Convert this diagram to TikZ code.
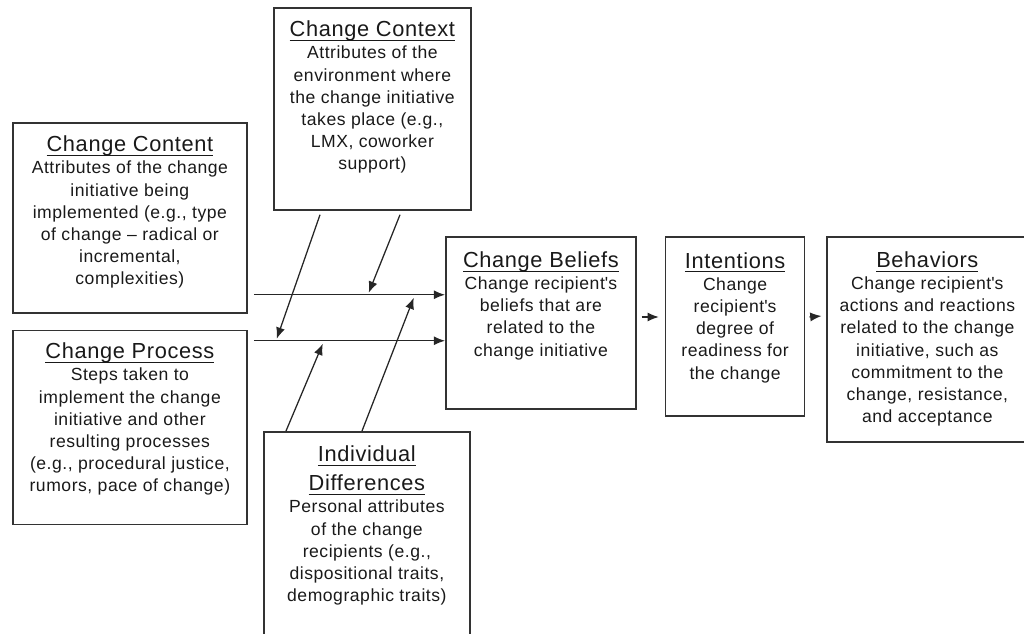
\documentclass[tikz,border=0pt]{standalone}
\usepackage{fontspec}
\setmainfont{Liberation Sans}[LetterSpace=3]
\usetikzlibrary{arrows.meta, positioning, calc}

\newcommand{\factortitle}[1]{{\fontsize{15.5}{16}\selectfont\setbox0\hbox{#1}\rlap{\rule[-3pt]{\wd0}{0.7pt}}\box0}}

\begin{document}
\begin{tikzpicture}[
        x=0.025cm, y=-0.025cm,
        factor/.style={rectangle, draw=black!80, line width=1.2pt, anchor=north west, inner sep=0pt},
        desc/.style={align=center, inner sep=0pt, anchor=north, text=black!90, font=\fontsize{12.5}{15.8}\selectfont},
        line/.style={draw=black!85, line width=0.9pt, -{Latex[length=8pt, width=6.5pt]}}
    ]
        \clip (0,0) rectangle (1024,633);

        % Antecedents
        \node[factor, minimum width=5.85cm, minimum height=4.75cm] (content) at (12,122) {};
        \node[factor, minimum width=5.85cm, minimum height=4.85cm, below=0.4cm of content.south west, anchor=north west] (process) {};
        \node[factor, minimum width=4.925cm, minimum height=5.05cm] (context) at (273,7) {};
        \node[factor, minimum width=5.15cm, minimum height=5.5cm] (indiv) at (263,431) {};

        % Outcomes
        \node[factor, minimum width=4.75cm, minimum height=4.3cm] (beliefs) at (445,236) {};
        \node[factor, minimum width=3.475cm, minimum height=4.475cm, right=0.7cm of beliefs.north east, anchor=north west] (intentions) {};
        \node[factor, minimum width=5cm, minimum height=5.125cm, right=0.525cm of intentions.north east, anchor=north west] (behaviors) {};

        % Texts
        \node[desc, below=0.34cm of content.north] (content_txt) {\factortitle{Change Content}\\Attributes of the change\\initiative being\\implemented (e.g., type\\of change -- radical or\\incremental,\\complexities)};
        \node[desc, below=0.32cm of process.north] (process_txt) {\factortitle{Change Process}\\Steps taken to\\implement the change\\initiative and other\\resulting processes\\(e.g., procedural justice,\\rumors, pace of change)};
        \node[desc, below=0.34cm of context.north] (context_txt) {\factortitle{Change Context}\\Attributes of the\\environment where\\the change initiative\\takes place (e.g.,\\LMX, coworker\\support)};
        \node[desc, below=0.36cm of indiv.north] (indiv_txt) {\factortitle{Individual}\\[5pt]\factortitle{Differences}\\Personal attributes\\of the change\\recipients (e.g.,\\dispositional traits,\\demographic traits)};
        \node[desc, below=0.38cm of beliefs.north] (beliefs_txt) {\factortitle{Change Beliefs}\\Change recipient\textquotesingle s\\beliefs that are\\related to the\\change initiative};
        \node[desc, below=0.4cm of intentions.north] (intentions_txt) {\factortitle{Intentions}\\Change\\recipient\textquotesingle s\\degree of\\readiness for\\the change};
        \node[desc, below=0.38cm of behaviors.north] (behaviors_txt) {\factortitle{Behaviors}\\Change recipient\textquotesingle s\\actions and reactions\\related to the change\\initiative, such as\\commitment to the\\change, resistance,\\and acceptance};

        % Connections (into beliefs)
        \coordinate (content_out) at ($(content.south east)+(6,-19)$);
        \coordinate (process_out) at ($(process.north east)+(6,11)$);
        \draw[line] (content_out) -- (content_out -| beliefs.west);
        \draw[line] (process_out) -- (process_out -| beliefs.west);

        % Connections (context and individual differences)
        \draw[line] ($(context.south west)+(47,4)$) -- ($(process_out)+(23,-2)$);
        \draw[line] ($(context.south west)+(127,4)$) -- ($(content_out)+(115,-2)$);
        \draw[line] ($(indiv.north west)+(23,0)$) -- ($(process_out)+(69,3)$);
        \draw[line] ($(indiv.north west)+(99,0)$) -- ($(content_out)+(160,3)$);

        % Connections (outcomes)
        \draw[line] ($(beliefs.north east)+(5,81)$) -- ($(intentions.north west)+(-6,81)$);
        \draw[line] ($(intentions.north east)+(4,81)$) -- ($(behaviors.north west)+(-5,80)$);
    \end{tikzpicture}
\end{document}
